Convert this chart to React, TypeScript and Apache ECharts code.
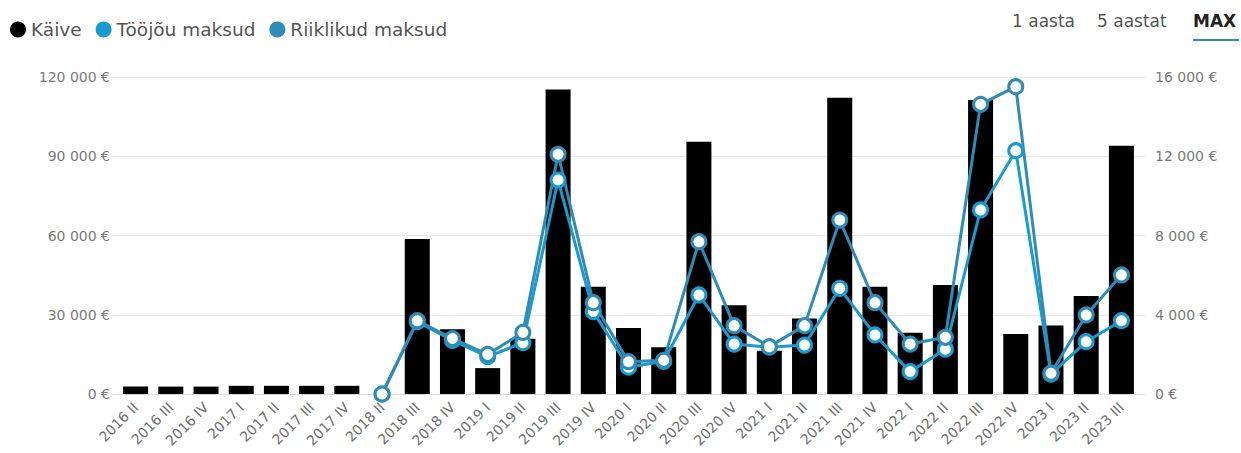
import React, { useEffect, useRef } from "react";
import * as echarts from "echarts";

const quarters = [
  "2016 II", "2016 III", "2016 IV",
  "2017 I", "2017 II", "2017 III", "2017 IV",
  "2018 II", "2018 III", "2018 IV",
  "2019 I", "2019 II", "2019 III", "2019 IV",
  "2020 I", "2020 II", "2020 III", "2020 IV",
  "2021 I", "2021 II", "2021 III", "2021 IV",
  "2022 I", "2022 II", "2022 III", "2022 IV",
  "2023 I", "2023 II", "2023 III",
];

// Turnover (left axis)
const kaive = [
  2800, 2800, 2800,
  3100, 3100, 3100, 3100,
  0, 58700, 24500,
  9800, 20900, 115300, 40600,
  25000, 17700, 95500, 33600,
  16400, 28600, 112100, 40600,
  23200, 41300, 111300, 22700,
  25900, 37100, 94000,
];

// Labour taxes (right axis)
const toojouMaksud = [
  null, null, null,
  null, null, null, null,
  0, 3650, 2700,
  1880, 2590, 10800, 4160,
  1350, 1650, 5000, 2520,
  2360, 2470, 5330, 2980,
  1130, 2260, 9290, 12280,
  1000, 2640, 3700,
];

// State taxes (right axis)
const riiklikudMaksud = [
  null, null, null,
  null, null, null, null,
  0, 3700, 2800,
  2000, 3110, 12100, 4610,
  1630, 1700, 7690, 3450,
  2390, 3450, 8780, 4610,
  2520, 2860, 14620, 15510,
  1050, 3990, 6010,
];

const leftTicks = { min: 0, max: 120000, interval: 30000 };
const rightTicks = { min: 0, max: 16000, interval: 4000 };

const BLACK = "#000000";
const CYAN = "#179bd0";
const TEAL = "#2d8db8";
const FONT = "'DejaVu Sans', sans-serif";

const euro = (v: number) =>
  String(v).replace(/\B(?=(\d{3})+(?!\d))/g, " ") + " €";

export default function App() {
  const ref = useRef<HTMLDivElement>(null);

  useEffect(() => {
    document.body.style.margin = "0";
    if (!ref.current) return;
    const chart = echarts.init(ref.current, undefined, { renderer: "svg" });

    const lineSeries = (name: string, data: (number | null)[], color: string) => ({
      name,
      type: "line",
      yAxisIndex: 1,
      data,
      symbol: "circle",
      symbolSize: 14,
      showAllSymbol: true,
      lineStyle: { color, width: 3 },
      itemStyle: { color: "#ffffff", borderColor: color, borderWidth: 3 },
      z: 3,
    });

    const plainText = (text: string, left: number, bold = false) => ({
      type: "text",
      left,
      top: 12,
      style: {
        text,
        fill: bold ? "#222222" : "#555555",
        fontSize: 17,
        fontWeight: bold ? "bold" : "normal",
        fontFamily: FONT,
      },
    });

    chart.setOption({
      animation: false,
      textStyle: { fontFamily: FONT },
      legend: {
        left: 5,
        top: 15,
        padding: 5,
        icon: "circle",
        itemWidth: 16,
        itemHeight: 16,
        itemGap: 14,
        textStyle: { color: "#555555", fontSize: 18.5, fontFamily: FONT },
        data: [
          { name: "Käive", itemStyle: { color: BLACK, borderWidth: 0 } },
          { name: "Tööjõu maksud", itemStyle: { color: CYAN, borderWidth: 0 } },
          { name: "Riiklikud maksud", itemStyle: { color: TEAL, borderWidth: 0 } },
        ],
      },
      graphic: [
        plainText("1 aasta", 1012),
        plainText("5 aastat", 1097),
        plainText("MAX", 1193, true),
        {
          type: "rect",
          left: 1193,
          top: 39,
          shape: { width: 46, height: 2 },
          style: { fill: TEAL },
        },
      ],
      grid: { left: 118, right: 102, top: 77, bottom: 59, containLabel: false },
      xAxis: {
        type: "category",
        data: quarters,
        axisLine: { lineStyle: { color: "#d9d9d9" } },
        axisTick: { show: false },
        axisLabel: {
          interval: 0,
          rotate: 45,
          color: "#6f6f6f",
          fontSize: 14,
          fontFamily: FONT,
          margin: 11,
        },
      },
      yAxis: [
        {
          type: "value",
          ...leftTicks,
          axisLine: { show: false },
          axisTick: { show: true, length: 6, lineStyle: { color: "#e3e3e3" } },
          splitLine: { lineStyle: { color: "#e8e8e8" } },
          axisLabel: {
            color: "#7a7a7a",
            fontSize: 14,
            fontFamily: FONT,
            margin: 8,
            formatter: euro,
          },
        },
        {
          type: "value",
          ...rightTicks,
          axisLine: { show: false },
          axisTick: { show: true, length: 6, lineStyle: { color: "#e3e3e3" } },
          splitLine: { show: false },
          axisLabel: {
            color: "#7a7a7a",
            fontSize: 14,
            fontFamily: FONT,
            margin: 16,
            formatter: euro,
          },
        },
      ],
      series: [
        {
          name: "Käive",
          type: "bar",
          data: kaive,
          barWidth: 25,
          itemStyle: { color: BLACK },
          z: 2,
        },
        lineSeries("Tööjõu maksud", toojouMaksud, CYAN),
        lineSeries("Riiklikud maksud", riiklikudMaksud, TEAL),
      ],
    });

    return () => chart.dispose();
  }, []);

  return <div ref={ref} style={{ width: 1241, height: 453 }} />;
}
